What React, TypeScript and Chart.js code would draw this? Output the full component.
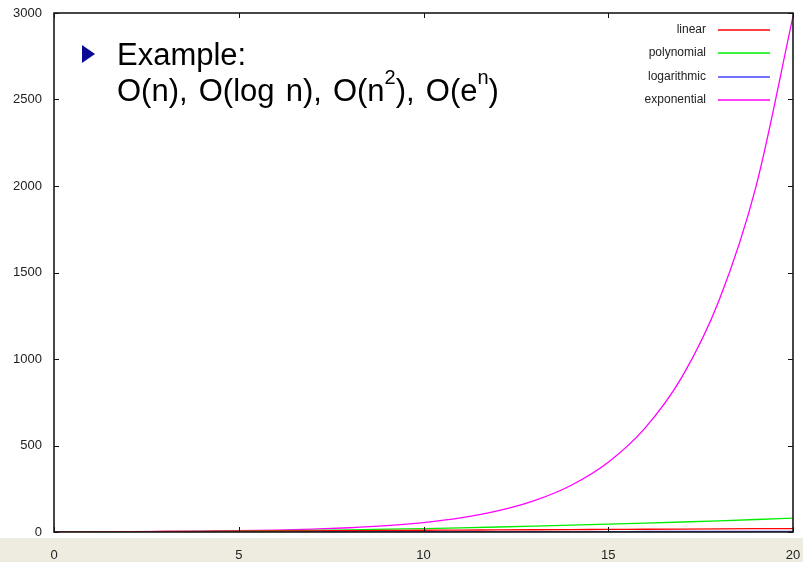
import React, { useEffect, useRef } from "react";
import { Chart, registerables } from "chart.js";

Chart.register(...registerables);

const xValues = [0, 1, 2, 3, 4, 5, 6, 7, 8, 9, 10, 11, 12, 13, 14, 15, 16, 17, 18, 19, 20];
const linearValues = [0, 1, 2, 3, 4, 5, 6, 7, 8, 9, 10, 11, 12, 13, 14, 15, 16, 17, 18, 19, 20];
const polynomialValues = [0, 0.2, 0.8, 1.8, 3.2, 5, 7.2, 9.8, 12.8, 16.2, 20, 24.2, 28.8, 33.8, 39.2, 45, 51.2, 57.8, 64.8, 72.2, 80];
const logarithmicValues = [0, 0, 0.69, 1.1, 1.39, 1.61, 1.79, 1.95, 2.08, 2.2, 2.3, 2.4, 2.48, 2.56, 2.64, 2.71, 2.77, 2.83, 2.89, 2.94, 3.0];
const exponentialValues = [1, 1.5, 2.2, 3.3, 5, 7.4, 11, 16.4, 24.5, 36.6, 54.6, 81.5, 121.5, 181.3, 270.4, 403.4, 601.8, 897.8, 1339.4, 1998.2, 2981];
const seriesNames = ["linear", "polynomial", "logarithmic", "exponential"];
const seriesColors = ["#ff0000", "#00ee00", "#4444ff", "#ff00ff"];
const xTicks = [0, 5, 10, 15, 20];
const yTicks = [0, 500, 1000, 1500, 2000, 2500, 3000];

const FONT = "'Liberation Sans', Arial, sans-serif";

const framePlugin = {
  id: "frame",
  beforeDraw(chart: any) {
    const { ctx, width, height } = chart;
    ctx.save();
    ctx.fillStyle = "#ffffff";
    ctx.fillRect(0, 0, width, height);
    ctx.fillStyle = "#eeebe0";
    ctx.fillRect(0, 538, width, height - 538);
    ctx.restore();
  },
  afterDatasetsDraw(chart: any) {
    const { ctx, chartArea: a, scales } = chart;
    ctx.save();
    ctx.strokeStyle = "#111";
    ctx.lineWidth = 1;
    const t = 5;
    ctx.beginPath();
    xTicks.forEach((v) => {
      const px = Math.round(scales.x.getPixelForValue(v)) + 0.5;
      ctx.moveTo(px, a.bottom);
      ctx.lineTo(px, a.bottom - t);
      ctx.moveTo(px, a.top);
      ctx.lineTo(px, a.top + t);
    });
    yTicks.forEach((v) => {
      const py = Math.round(scales.y.getPixelForValue(v)) + 0.5;
      ctx.moveTo(a.left, py);
      ctx.lineTo(a.left + t, py);
      ctx.moveTo(a.right, py);
      ctx.lineTo(a.right - t, py);
    });
    ctx.stroke();
    ctx.lineWidth = 1.6;
    ctx.strokeStyle = "#1a1a1a";
    ctx.strokeRect(a.left, a.top, a.right - a.left, a.bottom - a.top);

    // legend
    ctx.font = `12px ${FONT}`;
    ctx.textAlign = "right";
    ctx.textBaseline = "middle";
    chart.data.datasets.forEach((ds: any, i: number) => {
      const y = Math.round(30 + i * 23.3);
      ctx.fillStyle = "#222";
      ctx.fillText(ds.label, 706, y);
      ctx.strokeStyle = ds.borderColor;
      ctx.lineWidth = 1.5;
      ctx.beginPath();
      ctx.moveTo(718, y);
      ctx.lineTo(770, y);
      ctx.stroke();
    });
    ctx.restore();
  },
};

const zeroPad = (s: any) => {
  s.paddingLeft = 0;
  s.paddingRight = 0;
  s.paddingTop = 0;
  s.paddingBottom = 0;
};

const supStyle: React.CSSProperties = { fontSize: 20, lineHeight: 0, verticalAlign: "17px", wordSpacing: 0 };

export default function App() {
  const ref = useRef<HTMLCanvasElement | null>(null);

  useEffect(() => {
    if (!ref.current) return;
    const allSeries = [linearValues, polynomialValues, logarithmicValues, exponentialValues];
    const chart = new Chart(ref.current, {
      type: "line",
      data: {
        datasets: allSeries.map((vals, i) => ({
          label: seriesNames[i],
          data: xValues.map((x, j) => ({ x, y: vals[j] })),
          borderColor: seriesColors[i],
          borderWidth: 1.3,
          pointRadius: 0,
          fill: false,
          cubicInterpolationMode: "monotone" as const,
        })),
      },
      options: {
        animation: false,
        responsive: true,
        maintainAspectRatio: false,
        layout: { padding: { top: 13, right: 10, left: 0, bottom: 0 } },
        plugins: { legend: { display: false }, tooltip: { enabled: false } },
        scales: {
          x: {
            type: "linear",
            min: 0,
            max: 20,
            afterFit: (s: any) => {
              s.height = 30;
              zeroPad(s);
            },
            afterBuildTicks: (s: any) => {
              s.ticks = xTicks.map((v) => ({ value: v }));
            },
            grid: { display: false, drawTicks: false },
            border: { display: false },
            ticks: {
              padding: 16,
              color: "#222",
              font: { family: FONT, size: 13 },
              maxRotation: 0,
              callback: (v: any) => String(v),
            },
          },
          y: {
            type: "linear",
            min: 0,
            max: 3000,
            afterFit: (s: any) => {
              s.width = 54;
              zeroPad(s);
            },
            afterBuildTicks: (s: any) => {
              s.ticks = yTicks.map((v) => ({ value: v }));
            },
            grid: { display: false, drawTicks: false },
            border: { display: false },
            ticks: {
              padding: 12,
              color: "#222",
              font: { family: FONT, size: 13 },
              callback: (v: any) => String(v),
            },
          },
        },
      },
      plugins: [framePlugin],
    });
    return () => chart.destroy();
  }, []);

  return (
    <div style={{ position: "absolute", left: 0, top: 0, width: 803, height: 562, overflow: "hidden" }}>
      <canvas ref={ref} />
      <div
        style={{
          position: "absolute",
          left: 82,
          top: 45,
          width: 0,
          height: 0,
          borderTop: "9px solid transparent",
          borderBottom: "9px solid transparent",
          borderLeft: "13px solid #0a0a96",
        }}
      />
      <div
        style={{
          position: "absolute",
          left: 117,
          top: 37,
          fontFamily: FONT,
          fontSize: 31,
          lineHeight: "36px",
          wordSpacing: 2.5,
          color: "#000",
          whiteSpace: "nowrap",
        }}
      >
        <div>Example:</div>
        <div>
          O(n), O(log n), O(n<sup style={supStyle}>2</sup>), O(e<sup style={supStyle}>n</sup>)
        </div>
      </div>
    </div>
  );
}
